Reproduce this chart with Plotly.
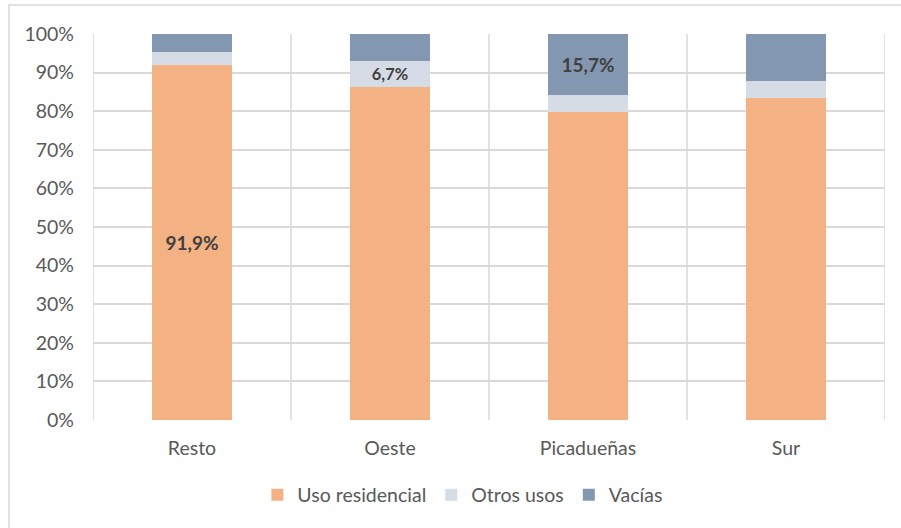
import plotly.graph_objects as go

# Share of dwellings by use, per zone (percent)
zonas = ["Resto", "Oeste", "Picadueñas", "Sur"]
uso_residencial = [91.9, 86.3, 79.9, 83.5]
otros_usos = [3.4, 6.7, 4.4, 4.3]
vacias = [4.7, 7.0, 15.7, 12.2]

# Only a few segments carry a value label
etiqueta_residencial = [True, False, False, False]
etiqueta_otros = [False, True, False, False]
etiqueta_vacias = [False, False, True, False]

# Y axis ticks
ticks_y = list(range(0, 101, 10))
ticks_y_texto = [f"{v}%" for v in ticks_y]

colores = {"Uso residencial": "#F4B183", "Otros usos": "#D6DCE5", "Vacías": "#8497B0"}

W, H = 901, 528
L, R, T, B = 93, 16, 34, 108


def fmt(v):
    return f"{v:.1f}".replace(".", ",") + "%"


def textos(vals, flags):
    return [fmt(v) if f else "" for v, f in zip(vals, flags)]


fig = go.Figure()
for nombre, vals, flags in [
    ("Uso residencial", uso_residencial, etiqueta_residencial),
    ("Otros usos", otros_usos, etiqueta_otros),
    ("Vacías", vacias, etiqueta_vacias),
]:
    fig.add_trace(go.Bar(
        x=zonas, y=vals, name=nombre,
        marker=dict(color=colores[nombre], line=dict(width=0)),
        width=0.404,
        text=textos(vals, flags),
        textposition="inside",
        insidetextanchor="middle",
        textangle=0,
        textfont=dict(family="Lato", size=19, color="#404040", weight="bold"),
        hoverinfo="skip",
    ))

# Vertical separators between categories
for xv in [-0.5, 0.5, 1.5, 2.5, 3.5]:
    fig.add_shape(type="line", xref="x", yref="paper", x0=xv, x1=xv, y0=0, y1=1,
                  line=dict(color="#D9D9D9", width=1.5), layer="below")

# Outer chart frame
pw, ph = W - L - R, H - T - B
fig.add_shape(type="rect", xref="paper", yref="paper",
              x0=(9 - L) / pw, x1=(W + 10 - L) / pw,
              y0=(H - B - (H + 10)) / ph, y1=(H - B - 5) / ph,
              line=dict(color="#D9D9D9", width=1.5), fillcolor="rgba(0,0,0,0)")

fig.update_layout(
    width=W, height=H,
    margin=dict(l=L, r=R, t=T, b=B),
    barmode="stack",
    plot_bgcolor="white", paper_bgcolor="white",
    font=dict(family="Lato", size=20, color="#595959"),
    legend=dict(orientation="h", x=0.467, xanchor="center",
                y=(H - B - 495) / ph, yanchor="middle",
                font=dict(size=19.5, color="#595959"),
                traceorder="normal"),
    xaxis=dict(showgrid=False, showline=False, ticks="", range=[-0.5, 3.5],
               ticklabelstandoff=14,
               tickfont=dict(size=19.5, color="#595959")),
    yaxis=dict(range=[0, 100], tickvals=ticks_y, ticktext=ticks_y_texto,
               showgrid=True, gridcolor="#D9D9D9", gridwidth=1.5,
               zeroline=False, showline=False, ticks="",
               ticklabelstandoff=18,
               tickfont=dict(size=19.5, color="#595959")),
)

fig.write_html("out.html")
